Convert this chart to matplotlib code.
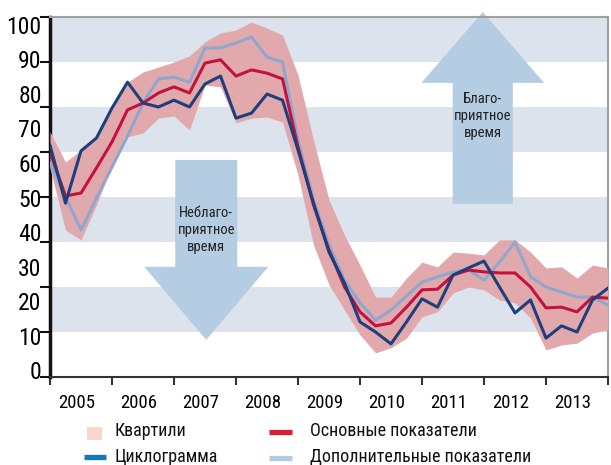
import numpy as np
import matplotlib
matplotlib.use("Agg")
import matplotlib.pyplot as plt
from matplotlib.patches import FancyArrow, Rectangle
from matplotlib.lines import Line2D

plt.rcParams['font.family'] = ['Roboto Condensed', 'DejaVu Sans']

# quarterly values, 2005Q1 .. 2014Q1
cyclogram = [64.4, 48.3, 62.8, 66.4, 74.7, 81.9, 76.1, 75.0, 76.9, 75.0,
             81.4, 83.6, 71.9, 73.3, 78.6, 76.9, 63.1, 48.3, 34.7, 26.1,
             15.3, 12.5, 9.2, 15.3, 21.7, 19.4, 28.3, 30.3, 32.2, 25.0,
             17.8, 21.4, 10.8, 14.2, 12.5, 21.4, 24.7]
main_ind = [62.5, 50.3, 51.1, 58.1, 65.3, 74.2, 76.1, 78.9, 80.6, 78.9,
            87.2, 88.1, 83.6, 85.3, 84.4, 82.8, 63.9, 47.8, 35.3, 25.0,
            18.1, 14.2, 15.0, 19.4, 24.2, 24.4, 28.3, 29.7, 29.2, 28.9,
            28.9, 25.0, 19.2, 19.4, 18.1, 22.2, 21.9]
extra_ind = [59.4, 50.0, 40.8, 49.7, 58.3, 66.9, 76.1, 82.8, 83.3, 81.9,
             91.4, 91.4, 92.8, 94.4, 88.9, 87.5, 65.8, 49.2, 36.7, 26.9,
             20.6, 15.8, 18.6, 22.5, 26.4, 27.8, 29.2, 29.7, 26.9, 31.9,
             37.5, 27.8, 25.0, 23.6, 22.2, 22.2, 20.0]
q_upper = [68.1, 59.7, 63.1, 66.7, 74.2, 81.9, 84.7, 86.1, 87.5, 89.2,
           93.1, 95.6, 96.4, 98.6, 96.9, 95.0, 83.9, 65.8, 49.2, 39.4,
           31.1, 22.2, 22.2, 27.5, 31.9, 30.6, 34.7, 34.4, 33.9, 38.1,
           38.1, 34.7, 30.3, 30.6, 27.5, 31.1, 30.3]
q_lower = [58.0, 40.8, 38.1, 47.8, 58.9, 66.7, 67.8, 71.9, 72.5, 68.6,
           81.1, 80.6, 70.6, 71.9, 72.2, 70.8, 56.1, 36.7, 25.6, 18.6,
           11.7, 6.7, 8.1, 10.8, 16.7, 18.1, 23.3, 25.0, 24.2, 21.4,
           20.6, 16.4, 7.5, 8.9, 9.4, 12.2, 13.1]
years = list(range(2005, 2014))
y_labels = [0, 10, 20, 30, 40, 50, 60, 70, 80, 90, 100]
legend_labels = ['Квартили', 'Циклограмма', 'Основные показатели', 'Дополнительные показатели']
legend_colors = ['#f9d6cc', '#1579b8', '#d42030', '#b3cce3']

x = 2005 + np.arange(len(cyclogram)) / 4

W, H = 611, 465
fig = plt.figure(figsize=(W / 100, H / 100), dpi=100)
ax = fig.add_axes([50 / W, 1 - 377 / H, 558 / W, 360 / H])
ax.set_xlim(2005, 2014)
ax.set_ylim(0, 100)

# background stripes
for lo in [12.5, 37.5, 62.5, 87.5]:
    ax.axhspan(lo, lo + 12.5, color='#dce3ed', lw=0, zorder=0)

# arrows
arrow_col = '#b5cde3'
ax.add_patch(FancyArrow(2007.52, 60.3, 0, -50, width=1.0, head_width=2.0,
                        head_length=20.3, length_includes_head=True,
                        color=arrow_col, lw=0, zorder=1))
ax.add_patch(FancyArrow(2011.98, 48.1, 0, 53.3, width=0.97, head_width=1.98,
                        head_length=19.7, length_includes_head=True,
                        color=arrow_col, lw=0, zorder=1, clip_on=False))
ax.text(2007.52, 40.8, 'Неблаго-\nприятное\nвремя', ha='center', va='center',
        fontsize=10.5, linespacing=1.3, color='#222222', zorder=2)
ax.text(2011.98, 72.5, 'Благо-\nприятное\nвремя', ha='center', va='center',
        fontsize=10.5, linespacing=1.3, color='#222222', zorder=2)

ax.fill_between(x, q_lower, q_upper, color='#e2a9ad', lw=0, zorder=3)
ax.plot(x, extra_ind, color='#8ea7cf', lw=2.2, zorder=4)
ax.plot(x, main_ind, color='#c3123e', lw=2.2, zorder=5)
ax.plot(x, cyclogram, color='#1d3f7c', lw=2.2, zorder=6)

# axes styling
for s in ['top', 'right']:
    ax.spines[s].set_color('#a0a0a0')
    ax.spines[s].set_linewidth(1.5)
ax.spines['left'].set_color('#111111')
ax.spines['left'].set_linewidth(2.5)
ax.spines['bottom'].set_color('#333333')
ax.spines['bottom'].set_linewidth(1.5)

# tick marks sit on the stripe edges, labels are spaced on their own
ax.set_yticks(np.arange(0, 100.1, 12.5))
ax.set_yticklabels([])
ax.set_yticks([1.9 + v * 0.959 for v in y_labels], minor=True)
ax.set_yticklabels([str(v) for v in y_labels], minor=True, fontsize=17)
ax.tick_params(axis='y', which='major', length=7, width=1.5, color='#111111')
ax.tick_params(axis='y', which='minor', length=0, pad=6)

ax.set_xticks(np.arange(2005, 2014.1, 1))
ax.set_xticklabels([])
ax.set_xticks([yr + 0.43 for yr in years], minor=True)
ax.set_xticklabels([str(yr) for yr in years], minor=True, fontsize=13.5)
ax.tick_params(axis='x', which='major', length=6, width=1.5, color='#333333')
ax.tick_params(axis='x', which='minor', length=0, pad=12)

# legend, drawn by hand in figure pixels
def fx(px):
    return px / W

def fy(py):
    return 1 - py / H

fig.add_artist(Rectangle((fx(87), fy(440)), 15 / W, 13 / H,
                         color=legend_colors[0], lw=0, transform=fig.transFigure))
for (x0, x1, yy), col in zip([(84, 106, 457), (269, 292, 432), (269, 292, 458)],
                             legend_colors[1:]):
    fig.add_artist(Line2D([fx(x0), fx(x1)], [fy(yy), fy(yy)], color=col, lw=3.8,
                          solid_capstyle='butt', transform=fig.transFigure))
for (tx, ty), lab in zip([(115, 431), (115, 457), (310, 431), (310, 457)], legend_labels):
    fig.text(fx(tx), fy(ty), lab, ha='left', va='center', fontsize=13, color='#111111')

fig.savefig('out.png', dpi=100)
